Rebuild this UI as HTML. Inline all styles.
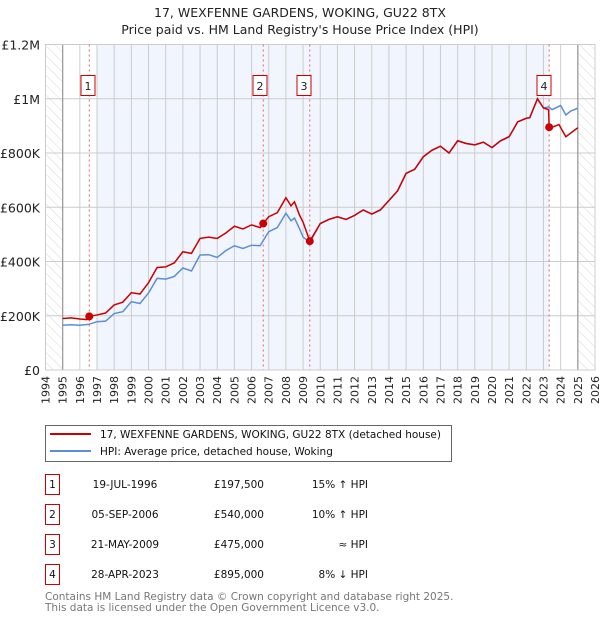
<!DOCTYPE html>
<html><head><meta charset="utf-8"><style>
body{margin:0;background:#fff;width:600px;height:620px;overflow:hidden;font-family:"DejaVu Sans","Liberation Sans",sans-serif}
svg text{font-family:"DejaVu Sans","Liberation Sans",sans-serif}
</style></head><body>
<svg id="chart" width="600" height="620" viewBox="0 0 600 620" xmlns="http://www.w3.org/2000/svg">
<defs><pattern id="hatch" width="7" height="7" patternUnits="userSpaceOnUse" patternTransform="rotate(-45)"><line x1="0" y1="0" x2="0" y2="7" stroke="#d8d8d8" stroke-width="1"/></pattern></defs>
<text x="300" y="17" text-anchor="middle" font-size="12.5" fill="#222">17, WEXFENNE GARDENS, WOKING, GU22 8TX</text>
<text x="300" y="34" text-anchor="middle" font-size="12.5" fill="#222">Price paid vs. HM Land Registry's House Price Index (HPI)</text>
<g id="plot"></g>
<g>
<rect x="45.5" y="425.5" width="406" height="36" fill="#fff" stroke="#666"/>
<line x1="50" y1="434" x2="91" y2="434" stroke="#cc0000" stroke-width="2"/>
<text x="100" y="438" font-size="10.5" fill="#111">17, WEXFENNE GARDENS, WOKING, GU22 8TX (detached house)</text>
<line x1="50" y1="451" x2="91" y2="451" stroke="#5b8fd4" stroke-width="2"/>
<text x="100" y="455" font-size="10.5" fill="#111">HPI: Average price, detached house, Woking</text>
</g>
<g id="table" font-size="10.5" fill="#111"></g>
<text x="45" y="600" font-size="10.5" fill="#777">Contains HM Land Registry data © Crown copyright and database right 2025.</text>
<text x="45" y="611" font-size="10.5" fill="#777">This data is licensed under the Open Government Licence v3.0.</text>
</svg>
<script>
const hpiYears=[1995,1995.5,1996,1996.5,1997,1997.5,1998,1998.5,1999,1999.5,2000,2000.5,2001,2001.5,2002,2002.5,2003,2003.5,2004,2004.5,2005,2005.5,2006,2006.5,2006.8,2007,2007.5,2008,2008.3,2008.5,2008.8,2009,2009.4,2010,2010.5,2011,2011.5,2012,2012.5,2013,2013.5,2014,2014.5,2015,2015.5,2016,2016.5,2017,2017.5,2018,2018.5,2019,2019.5,2020,2020.5,2021,2021.5,2022,2022.2,2022.65,2023,2023.3,2023.5,2024,2024.3,2024.6,2025];
const hpiValues=[165,167,165,168,178,180,208,215,252,245,284,338,335,345,376,365,424,425,415,440,458,448,460,458,490,510,525,578,550,560,520,490,470,540,555,565,555,570,590,575,590,625,660,725,740,786,810,825,800,845,835,830,840,820,845,860,915,928,930,1000,966,970,960,975,940,955,965];
const redYears=[1995,1995.5,1996,1996.4,1996.55,1997,1997.5,1998,1998.5,1999,1999.5,2000,2000.5,2001,2001.5,2002,2002.5,2003,2003.5,2004,2004.5,2005,2005.5,2006,2006.5,2006.68,2007,2007.5,2008,2008.3,2008.5,2008.8,2009,2009.39,2010,2010.5,2011,2011.5,2012,2012.5,2013,2013.5,2014,2014.5,2015,2015.5,2016,2016.5,2017,2017.5,2018,2018.5,2019,2019.5,2020,2020.5,2021,2021.5,2022,2022.2,2022.65,2023,2023.3,2023.33,2023.5,2023.9,2024.3,2025];
const redValues=[190,192,188,186,197.5,203,210,240,250,285,280,322,378,380,395,436,430,485,490,485,505,530,520,535,525,540,565,580,635,605,620,570,545,475,540,555,565,555,570,590,575,590,625,660,725,740,786,810,825,800,845,835,830,840,820,845,860,915,928,930,1000,966,960,895,895,905,860,893];
const saleYears=[1996.55,2006.68,2009.39,2023.33];
const saleValues=[197.5,540,475,895];
const saleLabels=["1","2","3","4"];
const saleDates=["19-JUL-1996","05-SEP-2006","21-MAY-2009","28-APR-2023"];
const salePrices=["£197,500","£540,000","£475,000","£895,000"];
const saleHpi=["15% ↑ HPI","10% ↑ HPI","≈ HPI","8% ↓ HPI"];
const yTicks=[0,200,400,600,800,1000,1200];
const yTickLabels=["£0","£200K","£400K","£600K","£800K","£1M","£1.2M"];
const X0=45.5,X1=595,Y0=370,Y1=44.5,YR0=1994,YR1=2026,VMAX=1200;
const xs=y=>X0+(y-YR0)/(YR1-YR0)*(X1-X0);
const ys=v=>Y0-v/VMAX*(Y0-Y1);
const NS="http://www.w3.org/2000/svg";
const plot=document.getElementById('plot');
function mk(tag,attrs,parent){const e=document.createElementNS(NS,tag);for(const k in attrs)e.setAttribute(k,attrs[k]);(parent||plot).appendChild(e);return e;}
let e;
e=mk('rect',{x:xs(1997),y:Y1,width:xs(2023.33)-xs(1997),height:Y0-Y1,fill:'#f1f5fd'});


e=mk('rect',{x:X0,y:Y1,width:xs(1995)-X0,height:Y0-Y1,fill:'url(#hatch)'});


e=mk('rect',{x:xs(2025),y:Y1,width:X1-xs(2025),height:Y0-Y1,fill:'url(#hatch)'});


for(let yr=YR0;yr<=YR1;yr++){
 e=mk('line',{x1:xs(yr),x2:xs(yr),y1:Y1,y2:Y0,stroke:'#ccc','stroke-width':1});
 
 
 e=mk('text',{x:0,y:0,'font-size':11,fill:'#222','text-anchor':'end',transform:`translate(${xs(yr)+4},${Y0+6}) rotate(-90)`});
 e.textContent=yr;
 
 
}
yTicks.forEach((v,i)=>{
 e=mk('line',{x1:X0,x2:X1,y1:ys(v),y2:ys(v),stroke:'#ccc','stroke-width':1});
 
 
 e=mk('text',{x:40,y:ys(v)+5,'font-size':12.5,fill:'#222','text-anchor':'end'});
 e.textContent=yTickLabels[i];
 
 
});
[1995,2025].forEach(yr=>{e=mk('line',{x1:xs(yr),x2:xs(yr),y1:Y1,y2:Y0,stroke:'#999','stroke-width':1.2});

});
e=mk('rect',{x:X0,y:Y1,width:X1-X0,height:Y0-Y1,fill:'none',stroke:'#ccc'});


saleYears.forEach((yr,i)=>{
 e=mk('line',{x1:xs(yr),x2:xs(yr),y1:Y1,y2:Y0,stroke:'#f06060','stroke-width':1,'stroke-dasharray':'2,3'});
 
 
});
e=mk('polyline',{points:hpiYears.map((y,i)=>xs(y)+','+ys(hpiValues[i])).join(' '),fill:'none',stroke:'#5b8fd4','stroke-width':1.5});


e=mk('polyline',{points:redYears.map((y,i)=>xs(y)+','+ys(redValues[i])).join(' '),fill:'none',stroke:'#cc0000','stroke-width':1.5});


saleYears.forEach((yr,i)=>{
 e=mk('circle',{cx:xs(yr),cy:ys(saleValues[i]),r:4,fill:'#cc0000'});
 
 
 const g=mk('g',{});
 
 
 const cx=[88,260,304,544][i];
 mk('rect',{x:cx-7,y:75.5,width:14,height:20,fill:'#fff',stroke:'#cc0000'},g);
 const t=mk('text',{x:cx,y:90,'font-size':11,fill:'#222','text-anchor':'middle'},g);t.textContent=saleLabels[i];
});
const tb=document.getElementById('table');
saleLabels.forEach((l,i)=>{
 const y=483+i*30;
 const g=mk('g',{},tb);
 
 
 mk('rect',{x:45.5,y:y-8.5,width:14,height:20,fill:'#fff',stroke:'#cc0000'},g);
 let t=mk('text',{x:52.5,y:y+5,'text-anchor':'middle'},g);t.textContent=l;
 t=mk('text',{x:125,y:y+5,'text-anchor':'middle'},g);t.textContent=saleDates[i];
 t=mk('text',{x:264,y:y+5,'text-anchor':'end'},g);t.textContent=salePrices[i];
 t=mk('text',{x:368,y:y+5,'text-anchor':'end'},g);t.textContent=saleHpi[i];
});
</script>
</body></html>
